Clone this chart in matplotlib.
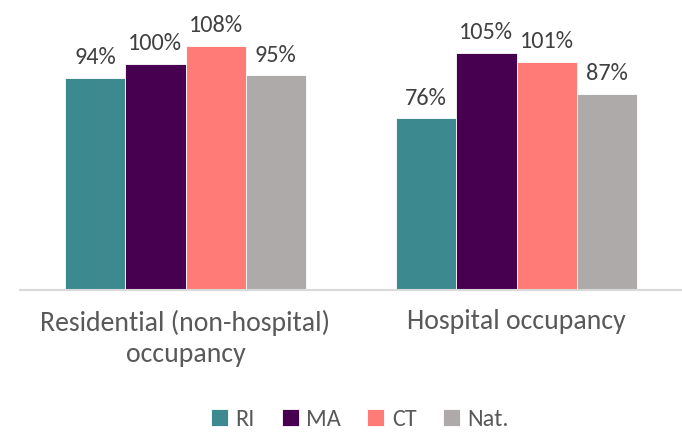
import numpy as np
import matplotlib
matplotlib.use("Agg")
import matplotlib.pyplot as plt
from matplotlib import font_manager

# font: Calibri look-alike if present, otherwise Lato
available = {f.name for f in font_manager.fontManager.ttflist}
font = "Carlito" if "Carlito" in available else "Lato"
plt.rcParams["font.family"] = [font, "DejaVu Sans"]

categories = ["Residential (non-hospital)\noccupancy", "Hospital occupancy"]
series = ["RI", "MA", "CT", "Nat."]
values = {
    "RI": [94, 76],
    "MA": [100, 105],
    "CT": [108, 101],
    "Nat.": [95, 87],
}
colors = {"RI": "#3C8A8F", "MA": "#470050", "CT": "#FF7B78", "Nat.": "#AEAAAA"}

fig = plt.figure(figsize=(6.82, 4.32), dpi=100)
ax = fig.add_axes([20 / 682, 142 / 432, 662 / 682, 271 / 432])

x = np.arange(len(categories))
width = 0.182
for i, name in enumerate(series):
    pos = x + (i - 1.5) * width
    bars = ax.bar(pos, values[name], width, color=colors[name],
                  edgecolor="white", linewidth=0.6, label=name)
    for b, v in zip(bars, values[name]):
        ax.annotate(f"{v}%", (b.get_x() + b.get_width() / 2, b.get_height()),
                    xytext=(0, 7), textcoords="offset points",
                    ha="center", va="bottom", fontsize=17.5, color="#404040")

ax.set_xlim(-0.5, 1.5)
ax.set_ylim(0, 120)
ax.set_yticks([])
ax.set_xticks(x)
# category labels are letter-spaced in the original, so use a wider face
tick_font = "Carlito" if font == "Carlito" else "Open Sans"
ax.set_xticklabels(categories, fontsize=20, color="#595959",
                   linespacing=1.3, family=[tick_font, "DejaVu Sans"])
ax.tick_params(axis="x", length=0, pad=14)
for s in ["top", "left", "right"]:
    ax.spines[s].set_visible(False)
ax.spines["bottom"].set_color("#D9D9D9")
ax.spines["bottom"].set_linewidth(1.5)

fig.legend(loc="center", bbox_to_anchor=(0.528, 0.028), ncol=4, frameon=False,
           fontsize=17.5, labelcolor="#595959", handlelength=0.7, handleheight=0.7,
           handletextpad=0.3, columnspacing=1.1)

fig.savefig("out.png", dpi=100)
